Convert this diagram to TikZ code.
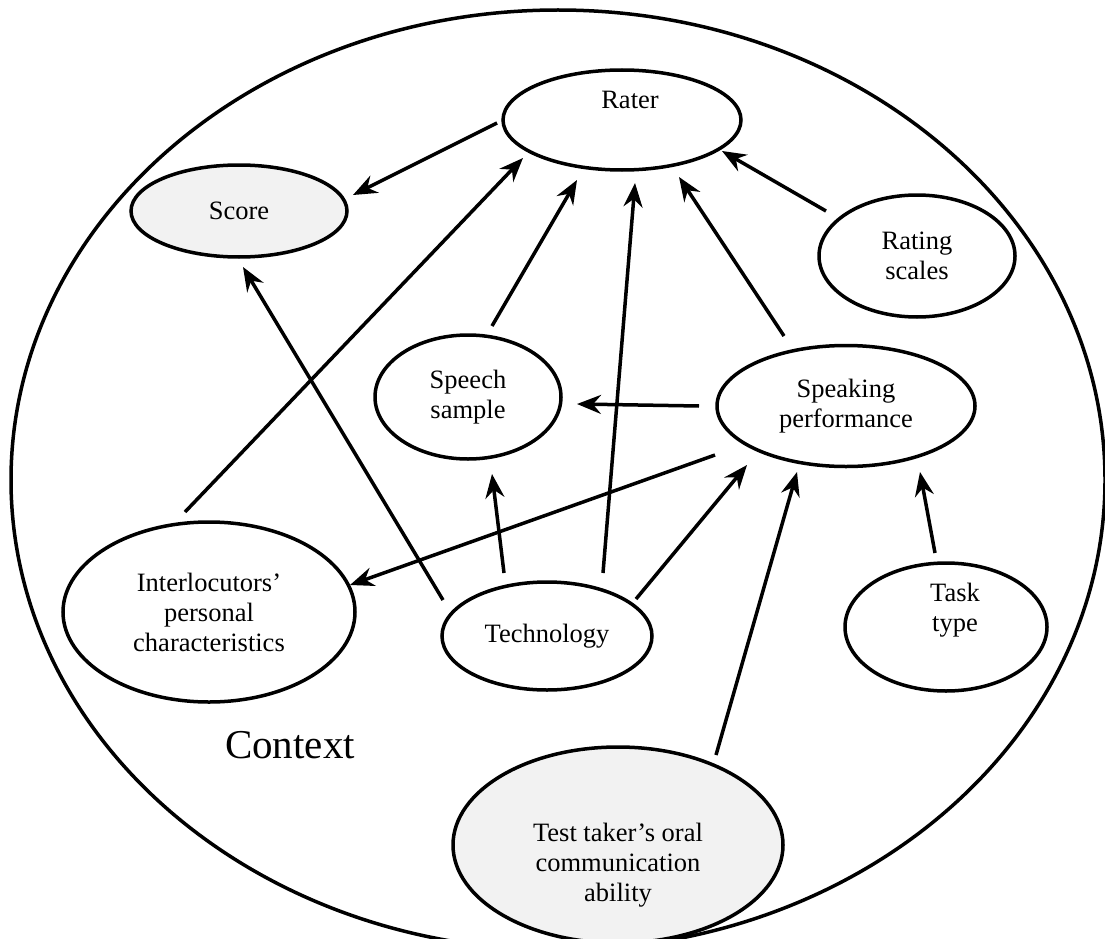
\documentclass[tikz,border=0pt]{standalone}
\usepackage{fontspec}
\setmainfont{Liberation Serif}
\usetikzlibrary{calc, arrows.meta, shapes.geometric}
\usetikzlibrary{positioning}

\definecolor{shade}{HTML}{F2F2F2}

\tikzset{
  oval/.style={ellipse, draw, line width=3.5pt, inner sep=0pt, align=center,
    font=\fontsize{26.5}{30}\selectfont},
  lbl/.style={align=center, inner sep=0pt, font=\fontsize{26.5}{30}\selectfont},
  arr/.style={line width=3.5pt, -{Stealth[length=24pt, width=19pt, inset=8pt]}},
}

\begin{document}
\begin{tikzpicture}[x=1pt, y=-1pt]
\useasboundingbox (0,0) rectangle (1105,939);

% context
\draw[line width=3.5pt] (558,480) ellipse [x radius=547, y radius=470];
\node[font=\fontsize{41}{44}\selectfont, inner sep=0pt] (context) at (290,745) {Context};

% factors
\node[oval, minimum width=238pt, minimum height=100pt] (rater) at (622,120) {};
\node[lbl] (rater-t) at (630,100) {Rater};
\node[oval, fill=shade, minimum width=216pt, minimum height=92pt] (score) at (239,211) {Score};
\node[oval, minimum width=196pt, minimum height=122pt] (rating) at (917,256) {Rating\\scales};
\node[oval, minimum width=186pt, minimum height=124pt] (speech) at (468,397) {Speech\\sample};
\node[oval, minimum width=258pt, minimum height=121pt] (speaking) at (846,406) {Speaking\\performance};
\node[oval, minimum width=292pt, minimum height=180pt] (interloc) at (209,612) {Interlocutors'\\personal\\characteristics};
\node[oval, minimum width=210pt, minimum height=108pt] (tech) at (547,636) {Technology};
\node[oval, minimum width=202pt, minimum height=128pt] (task) at (946,627) {};
\node[lbl] (task-t) at (955,610) {Task\\type};
\node[oval, fill=shade, minimum width=330pt, minimum height=196pt] (test) at (618,845) {};
\node[lbl] (test-t) at (618,865) {Test taker's oral\\communication\\ability};

% arrows
\draw[arr] ($(rater)+(-125,3)$) -- ($(score)+(114,-16)$);
\draw[arr] ($(interloc)+(-24,-100)$) -- ($(rater)+(-99,38)$);
\draw[arr] ($(tech)+(-104,-36)$) -- ($(score)+(4,56)$);
\draw[arr] ($(speech)+(24,-71)$) -- ($(rater)+(-45,60)$);
\draw[arr] ($(tech)+(56,-63)$) -- ($(rater)+(13,63)$);
\draw[arr] ($(speaking)+(-62,-70)$) -- ($(rater)+(57,57)$);
\draw[arr] ($(rating)+(-91,-45)$) -- ($(rater)+(100,31)$);
\draw[arr] ($(speaking)+(-147,0)$) -- ($(speech)+(109,7)$);
\draw[arr] ($(tech)+(-43,-63)$) -- ($(speech)+(24,77)$);
\draw[arr, {Stealth[length=24pt, width=19pt, inset=8pt]}-] ($(interloc)+(141,-27)$) -- ($(speaking)+(-131,49)$);
\draw[arr] ($(tech)+(89,-37)$) -- ($(speaking)+(-99,59)$);
\draw[arr] ($(test)+(98,-90)$) -- ($(speaking)+(-49,66)$);
\draw[arr] ($(task)+(-11,-74)$) -- ($(speaking)+(74,66)$);
\end{tikzpicture}
\end{document}
